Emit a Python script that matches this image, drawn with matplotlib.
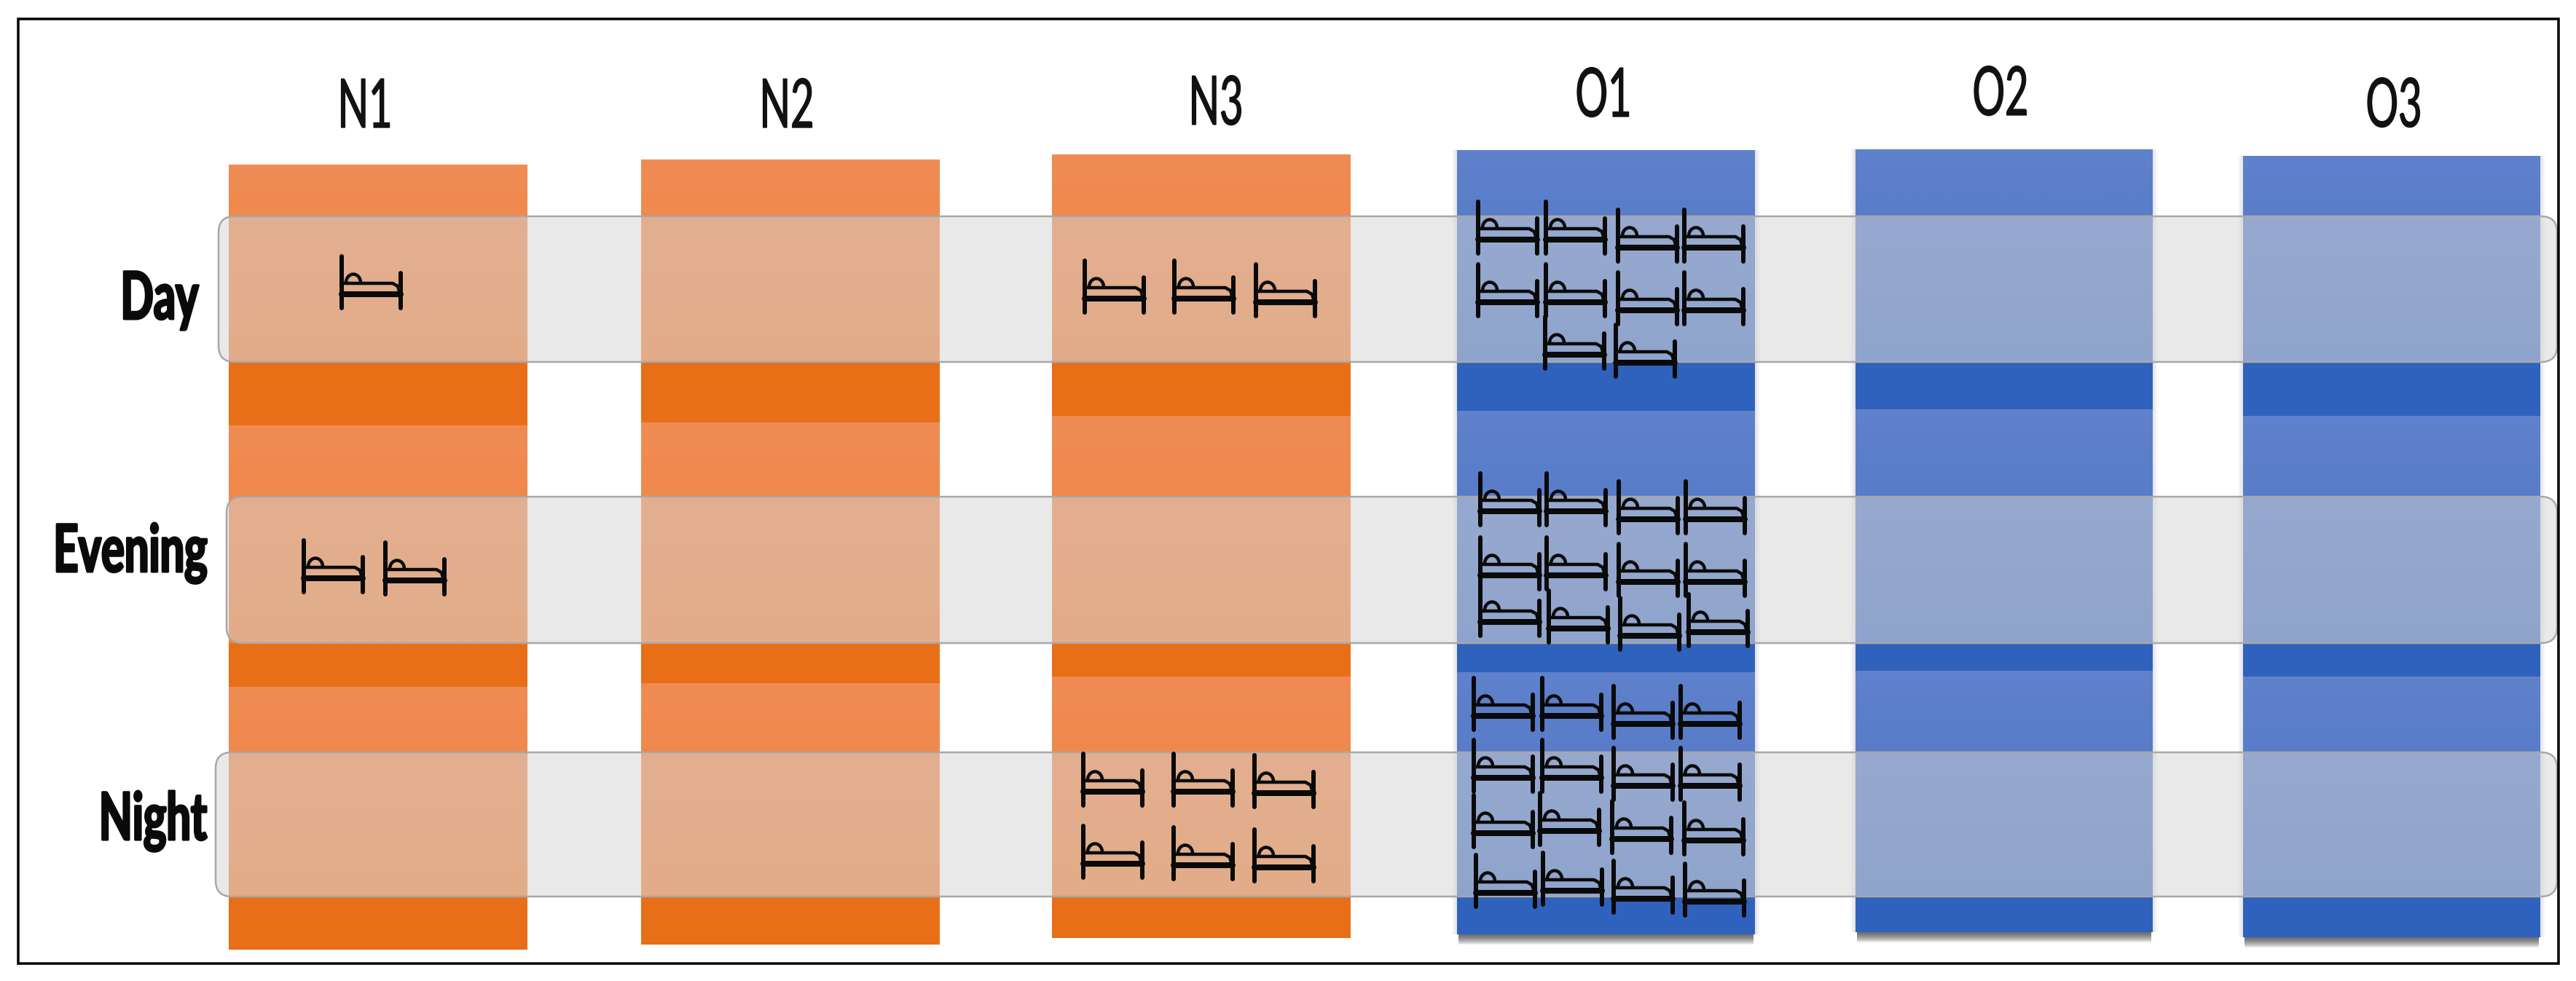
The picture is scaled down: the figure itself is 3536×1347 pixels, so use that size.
import numpy as np
import matplotlib
matplotlib.use("Agg")
import matplotlib.pyplot as plt
from matplotlib.patches import Rectangle, FancyBboxPatch, Arc
from matplotlib.colors import LinearSegmentedColormap
from matplotlib.patheffects import AbstractPathEffect
from matplotlib.transforms import Affine2D

# CHART DATA

columns = ["N1", "N2", "N3", "O1", "O2", "O3"]
shifts = ["Day", "Evening", "Night"]

# number of beds per column, one value per shift
beds_N1 = [1, 2, 0]
beds_N2 = [0, 0, 0]
beds_N3 = [3, 0, 6]
beds_O1 = [10, 12, 16]
beds_O2 = [0, 0, 0]
beds_O3 = [0, 0, 0]
bed_counts = [beds_N1, beds_N2, beds_N3, beds_O1, beds_O2, beds_O3]

# LAYOUT (pixels of the 3537x1347 picture)

W, H = 3537, 1347

col_left = [314, 880, 1444, 2000, 2547, 3079]
col_right = [724, 1290, 1854, 2409, 2955, 3487]
col_top = [226, 219, 212, 206, 205, 214]
col_split1 = [584, 580, 571, 564, 562, 571]
col_split2 = [943, 938, 929, 923, 921, 929]
col_bottom = [1304, 1297, 1288, 1283, 1280, 1287]

band_left = [300, 311, 296]
band_right = 3510
band_top = [297, 682, 1033]
band_bottom = [497, 883, 1231]

col_label_x = [501, 1080, 1669, 2201, 2746, 3286]
col_label_y = [175, 175, 171, 160, 158, 174]
shift_label_x = [219, 179, 210]
shift_label_y = [438, 785, 1153]

# bed anchors: left post x, bottom y
bed_pos = {
    ("N1", 0): [(469, 423)],
    ("N1", 1): [(417, 813), (529, 816)],
    ("N3", 0): [(1489, 429), (1612, 429), (1724, 434)],
    ("N3", 2): [(1487, 1106), (1611, 1106), (1722, 1108),
                (1487, 1205), (1611, 1207), (1722, 1210)],
    ("O1", 0): [(2029, 348), (2122, 348), (2221, 359), (2312, 359),
                (2029, 434), (2122, 434), (2221, 445), (2312, 445),
                (2121, 506), (2218, 517)],
    ("O1", 1): [(2032, 721), (2123, 721), (2222, 732), (2314, 732),
                (2032, 809), (2123, 809), (2222, 818), (2314, 818),
                (2032, 873), (2126, 882), (2224, 892), (2318, 887)],
    ("O1", 2): [(2023, 1002), (2117, 1002), (2215, 1013), (2307, 1013),
                (2023, 1087), (2117, 1087), (2215, 1098), (2307, 1098),
                (2023, 1163), (2114, 1160), (2213, 1171), (2312, 1173),
                (2026, 1245), (2118, 1242), (2215, 1253), (2313, 1257)],
}

# COLOURS

orange_grad = LinearSegmentedColormap.from_list("o", ["#EF8B54", "#F2843C"])
blue_grad = LinearSegmentedColormap.from_list("b", ["#6081CB", "#4A74C4"])
orange_dark = "#E96E18"
blue_dark = "#2F62BC"

PX = 72 / 100  # one pixel in points at dpi 100


class Squeeze(AbstractPathEffect):
    """Narrow a text around x = cx and thicken it, there is no condensed font installed"""

    def __init__(self, cx, sx, stroke):
        self.cx, self.sx, self.stroke = cx, sx, stroke

    def draw_path(self, renderer, gc, tpath, affine, rgbFace=None):
        squeeze = Affine2D().translate(-self.cx, 0).scale(self.sx, 1).translate(self.cx, 0)
        gc0 = renderer.new_gc()
        gc0.copy_properties(gc)
        gc0.set_linewidth(self.stroke)
        gc0.set_foreground(rgbFace)
        renderer.draw_path(gc0, tpath, affine + squeeze, rgbFace)
        gc0.restore()


def draw_bed(ax, x, y):
    """Bed icon, x is the left post and y the bottom of the posts"""
    kw = dict(color="#0A0A0A", solid_capstyle="round", zorder=6)
    ax.plot([x, x], [y - 71, y], lw=6 * PX, **kw)
    ax.plot([x + 81, x + 81], [y - 48, y], lw=6 * PX, **kw)
    ax.plot([x, x + 81], [y - 19, y - 19], lw=8 * PX, **kw)
    # mattress outline
    ax.plot([x + 2, x + 70, x + 77, x + 80], [y - 34, y - 34, y - 30, y - 20],
            lw=4.5 * PX, **kw)
    # pillow
    ax.add_patch(Arc((x + 16, y - 35), 20, 23, theta1=180, theta2=360,
                     lw=4.5 * PX, color="#0A0A0A", zorder=6))


fig = plt.figure(figsize=(W / 100, H / 100), dpi=100)
ax = fig.add_axes([0, 0, 1, 1])
grad = np.linspace(0, 1, 64).reshape(-1, 1)

# COLUMNS

for i, name in enumerate(columns):
    x0, x1 = col_left[i], col_right[i]
    is_open = name.startswith("O")
    cmap = blue_grad if is_open else orange_grad
    dark = blue_dark if is_open else orange_dark

    # soft shadow of the blue columns, faint at the sides and stronger below
    if is_open:
        for k in range(1, 8):
            ax.add_patch(Rectangle((x0 - k, col_top[i]), x1 - x0 + 2 * k,
                                   col_bottom[i] - col_top[i],
                                   fc="#505050", ec="none", alpha=0.02, zorder=1))
        for k in range(1, 15):
            ax.add_patch(Rectangle((x0 + 2, col_bottom[i]), x1 - x0 - 4, k,
                                   fc="#303030", ec="none", alpha=0.08, zorder=1))

    starts = [col_top[i], col_split1[i], col_split2[i]]
    ends = [col_split1[i], col_split2[i], col_bottom[i]]
    for s in range(3):
        ax.imshow(grad, extent=(x0, x1, band_bottom[s], starts[s]), cmap=cmap,
                  aspect="auto", zorder=2, interpolation="bilinear")
        ax.add_patch(Rectangle((x0, band_bottom[s]), x1 - x0, ends[s] - band_bottom[s],
                               fc=dark, ec="none", zorder=2))

# SHIFT BANDS

for s in range(3):
    ax.add_patch(FancyBboxPatch((band_left[s], band_top[s]),
                                band_right - band_left[s], band_bottom[s] - band_top[s],
                                boxstyle="round,pad=0,rounding_size=22",
                                fc=(0.835, 0.835, 0.835, 0.5), ec="#A8A8A8",
                                lw=2.5 * PX, zorder=3))

# BEDS

for i, name in enumerate(columns):
    for s in range(3):
        for bx, by in bed_pos.get((name, s), [])[:bed_counts[i][s]]:
            draw_bed(ax, bx, by)

# LABELS

for i, name in enumerate(columns):
    ax.text(col_label_x[i], col_label_y[i], name, ha="center", va="baseline",
            family="Lato", fontsize=67, color="#111111",
            path_effects=[Squeeze(col_label_x[i], 0.6, 1.0)])

for s, name in enumerate(shifts):
    ax.text(shift_label_x[s], shift_label_y[s], name, ha="center", va="baseline",
            family="Lato", fontsize=65, fontweight="bold", color="#0A0A0A",
            path_effects=[Squeeze(shift_label_x[s], 0.66, 2.2)])

# FRAME

ax.add_patch(Rectangle((25, 26), 3487, 1297, fc="none", ec="black", lw=3.5 * PX, zorder=8))

ax.set_xlim(0, W)
ax.set_ylim(H, 0)
ax.axis("off")

fig.savefig("out.png", dpi=100)
